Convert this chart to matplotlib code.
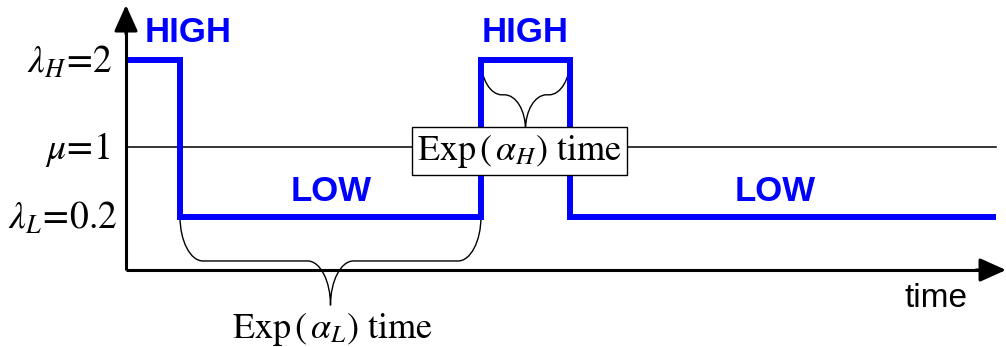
import matplotlib
matplotlib.use("Agg")
import matplotlib.pyplot as plt
from matplotlib.path import Path
from matplotlib.patches import PathPatch

plt.rcParams['mathtext.fontset'] = 'stix'

# switching times of the rate process and the rate held after each switch
switch_times = [0.0, 0.54, 3.55, 4.44, 8.70]
rates = [2.0, 0.2, 2.0, 0.2]
state_labels = ["HIGH", "LOW", "HIGH", "LOW"]
label_x = [0.62, 2.05, 3.99, 6.49]

# reference levels on the y axis
level_values = [2.0, 1.0, 0.2]
level_labels = [r"$\lambda_{H}\!=\!2$", r"$\mu\!=\!1$", r"$\lambda_{L}\!=\!0.2$"]
level_right = [-0.13, -0.16, -0.09]
mu = 1.0

axis_y = -0.414


def brace(ax, xa, xb, y, rx, h, lw=1.0):
    # curly brace hanging below y, from xa to xb, tip in the middle
    xm = (xa + xb) / 2
    k = 0.552
    verts = [
        (xa, y),
        (xa, y + k * h), (xa + rx * (1 - k), y + h), (xa + rx, y + h),
        (xm - rx, y + h),
        (xm - rx + k * rx, y + h), (xm, y + 2 * h - k * h), (xm, y + 2 * h),
        (xm, y + 2 * h - k * h), (xm + rx - k * rx, y + h), (xm + rx, y + h),
        (xb - rx, y + h),
        (xb - rx * (1 - k), y + h), (xb, y + k * h), (xb, y),
    ]
    codes = [Path.MOVETO,
             Path.CURVE4, Path.CURVE4, Path.CURVE4,
             Path.LINETO,
             Path.CURVE4, Path.CURVE4, Path.CURVE4,
             Path.CURVE4, Path.CURVE4, Path.CURVE4,
             Path.LINETO,
             Path.CURVE4, Path.CURVE4, Path.CURVE4]
    ax.add_patch(PathPatch(Path(verts, codes), fill=False, lw=lw, ec='black', zorder=2))


fig = plt.figure(figsize=(10.06, 3.47), dpi=100)
ax = fig.add_axes([0, 0, 1, 1])
ax.set_xlim(-1.26, 8.80)
ax.set_ylim(-1.299, 2.690)
ax.axis('off')

# mu reference line
ax.plot([0, switch_times[-1]], [mu, mu], color='black', lw=1.1, zorder=1)

# axes with arrows
ax.plot([0, 0], [axis_y, 2.45], color='black', lw=2.2, solid_capstyle='butt', zorder=4)
ax.annotate("", xy=(0, 2.632), xytext=(0, 2.3),
            arrowprops=dict(arrowstyle='-|>,head_length=0.8,head_width=0.36',
                            mutation_scale=20, color='black', lw=2.2,
                            shrinkA=0, shrinkB=0), zorder=4)
ax.plot([0, 8.6], [axis_y, axis_y], color='black', lw=2.2, solid_capstyle='butt', zorder=4)
ax.annotate("", xy=(8.80, axis_y), xytext=(8.5, axis_y),
            arrowprops=dict(arrowstyle='-|>,head_length=0.8,head_width=0.36',
                            mutation_scale=20, color='black', lw=2.2,
                            shrinkA=0, shrinkB=0), zorder=4)

# rate process
ax.plot(switch_times, rates + [rates[-1]], drawstyle='steps-post', color='#0000ff',
        lw=4.3, solid_joinstyle='miter', solid_capstyle='butt', zorder=3)

for lab, x, r in zip(state_labels, label_x, rates):
    y = 2.32 if lab == "HIGH" else 0.494
    ax.text(x, y, lab, color='#0000ff', fontsize=25, fontweight='bold',
            family='Liberation Sans', ha='center', va='center')

for v, lab, xr in zip(level_values, level_labels, level_right):
    ax.text(xr, v - 0.03, lab, fontsize=27, ha='right', va='center')

ax.text(8.10, -0.736, "time", fontsize=24, family='Liberation Sans', ha='center', va='center')

# braces for holding times
brace(ax, switch_times[2], switch_times[3], rates[2], 0.21, -0.40)
brace(ax, switch_times[1], switch_times[2], rates[1], 0.23, -0.51)

ax.text(3.935, 0.954, r"$\mathrm{Exp}\,(\,\alpha_{H})\ \mathrm{time}$", fontsize=26,
        ha='center', va='center', zorder=5,
        bbox=dict(boxstyle='square,pad=0.15', fc='white', ec='black', lw=1.0))
ax.text(2.06, -1.195, r"$\mathrm{Exp}\,(\,\alpha_{L})\ \mathrm{time}$", fontsize=26,
        ha='center', va='baseline')

fig.savefig("out.png", dpi=100)
